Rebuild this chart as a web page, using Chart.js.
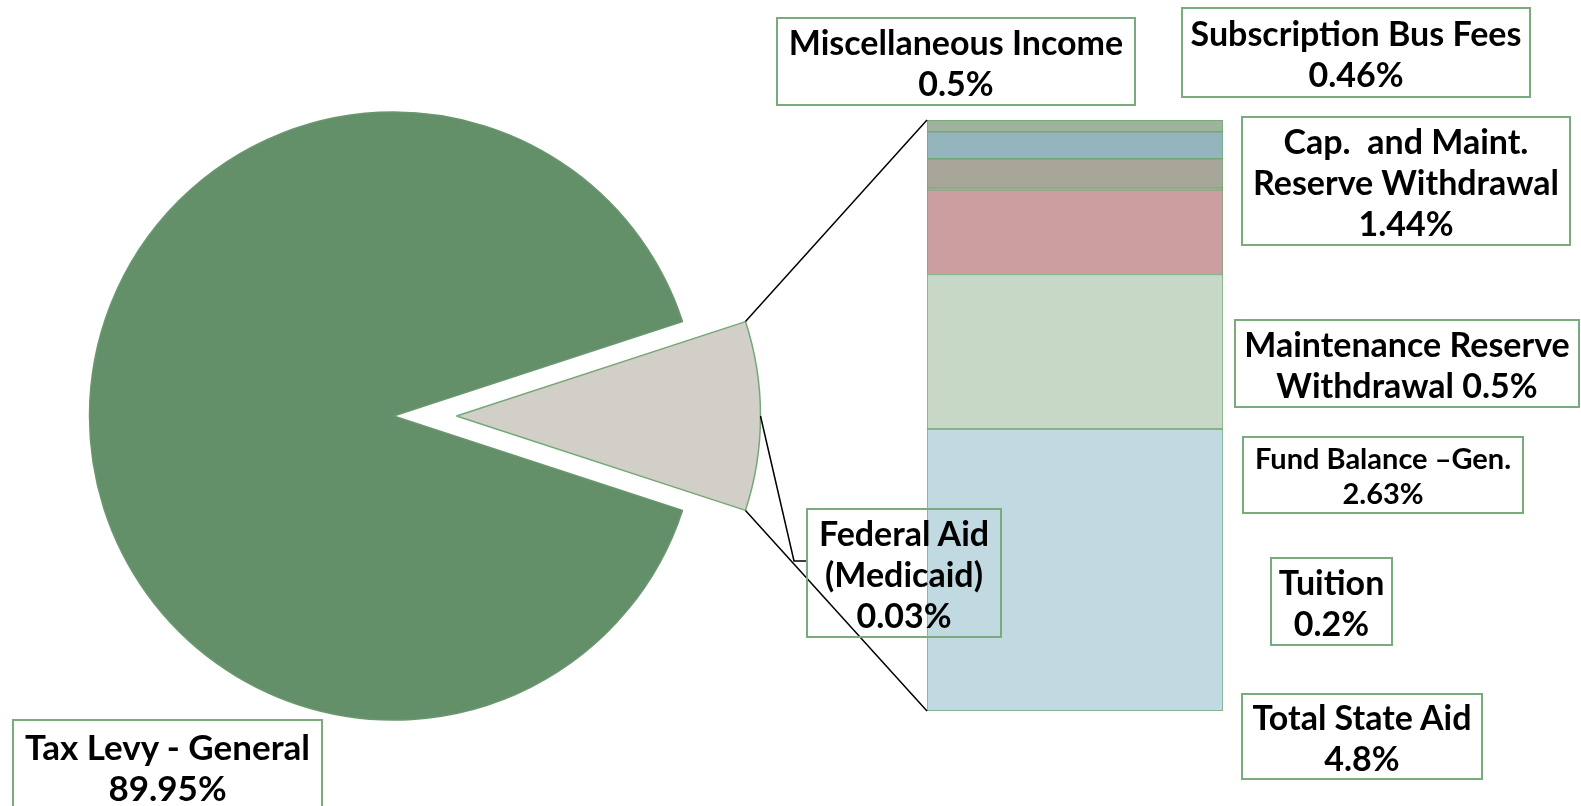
<!DOCTYPE html>
<html>
<head>
<meta charset="utf-8">
<title>Revenue Sources</title>
<script src="https://cdn.jsdelivr.net/npm/chart.js@4.4.1/dist/chart.umd.min.js"></script>
<style>
html,body{margin:0;padding:0;background:#fff;}
body{position:relative;width:1581px;height:806px;overflow:hidden;font-family:Lato,"Liberation Sans",sans-serif;}
.pieBox{position:absolute;top:0;width:787px;height:832px;}
#barBox{position:absolute;left:927px;top:120px;width:296px;height:591px;}
#lines{position:absolute;left:0;top:0;pointer-events:none;}
.lbl{position:absolute;box-sizing:border-box;border:2px solid #7aab7c;display:flex;align-items:center;justify-content:center;text-align:center;font-weight:700;color:#000;white-space:pre;}
</style>
</head>
<body>
<div class="pieBox" id="pieBoxA" style="left:0px"><canvas id="pieA"></canvas></div>
<div class="pieBox" id="pieBoxB" style="left:63px"><canvas id="pieB"></canvas></div>
<div id="barBox"><canvas id="bar"></canvas></div>
<canvas id="lines" width="1581" height="806"></canvas>
<div id="labels"></div>
<script>
// pie: tax levy vs everything else
const pieLabels = ['Tax Levy - General', 'Other Sources'];
const pieValues = [89.95, 10.05];
const pieColors = ['#638f69', '#d1cfc7'];

// stacked bar of the "other" slice, bottom to top
const barNames = ['Total State Aid', 'Fund Balance -Gen.', 'Cap. and Maint. Reserve Withdrawal', 'Federal Aid (Medicaid)', 'Maintenance Reserve Withdrawal', 'Subscription Bus Fees', 'Tuition'];
const barValues = [4.8, 2.63, 1.44, 0.03, 0.5, 0.46, 0.2];
const barColors = ['#c1dae1', '#c7d9c6', '#cb9fa0', '#93b593', '#a8a698', '#94b4be', '#9db39b'];

// text boxes
const labelNames = ['Tax Levy - General', 'Total State Aid', 'Tuition', 'Fund Balance \u2013Gen.', 'Maintenance Reserve\nWithdrawal', 'Cap.  and Maint.\nReserve Withdrawal', 'Subscription Bus Fees', 'Miscellaneous Income', 'Federal Aid\n(Medicaid)'];
const labelShares = [89.95, 4.8, 0.2, 2.63, 0.5, 1.44, 0.46, 0.5, 0.03];

const boxLayout = [
    {x: 12, y: 719, w: 311, h: 96, size: 35, lh: 41},
    {x: 1241, y: 693, w: 242, h: 87, size: 34, lh: 41},
    {x: 1270, y: 557, w: 123, h: 89, size: 34, lh: 41},
    {x: 1242, y: 436, w: 282, h: 78, size: 29, lh: 35},
    {x: 1234, y: 319, w: 346, h: 89, size: 34, lh: 41, sep: ' '},
    {x: 1241, y: 116, w: 330, h: 130, size: 34, lh: 41},
    {x: 1181, y: 7, w: 350, h: 91, size: 34, lh: 41},
    {x: 776, y: 17, w: 360, h: 89, size: 34, lh: 41},
    {x: 806, y: 508, w: 196, h: 130, size: 34, lh: 41}
];

const labelsDiv = document.getElementById('labels');
const boxEls = labelNames.map((name, i) => {
    const b = boxLayout[i];
    const d = document.createElement('div');
    d.className = 'lbl';
    d.style.left = b.x + 'px';
    d.style.top = b.y + 'px';
    d.style.width = b.w + 'px';
    d.style.height = b.h + 'px';
    d.style.fontSize = b.size + 'px';
    d.style.lineHeight = b.lh + 'px';
    d.textContent = name + (b.sep || '\n') + labelShares[i] + '%';
    labelsDiv.appendChild(d);
    return d;
});

const pieRotation = 90 + 180 * pieValues[1] / (pieValues[0] + pieValues[1]);

function makePie(id, colors, borders) {
    return new Chart(document.getElementById(id), {
        type: 'pie',
        data: {
            labels: pieLabels,
            datasets: [{
                data: pieValues,
                backgroundColor: colors,
                borderColor: borders,
                borderWidth: 1.5
            }]
        },
        options: {
            responsive: true,
            maintainAspectRatio: false,
            animation: false,
            events: [],
            radius: 304,
            rotation: pieRotation,
            plugins: {legend: {display: false}, tooltip: {enabled: false}}
        }
    });
}

// main slice stays put, the small slice is drawn on a second canvas pulled out to the right
const pieA = makePie('pieA', [pieColors[0], 'rgba(0,0,0,0)'], ['#6a976f', 'rgba(0,0,0,0)']);
const pieB = makePie('pieB', ['rgba(0,0,0,0)', pieColors[1]], ['rgba(0,0,0,0)', '#75a878']);

const barChart = new Chart(document.getElementById('bar'), {
    type: 'bar',
    data: {
        labels: ['Other Sources'],
        datasets: barNames.map((n, i) => ({
            label: n,
            data: [barValues[i]],
            backgroundColor: barColors[i],
            borderColor: '#72a676',
            borderWidth: 1,
            borderSkipped: false,
            barPercentage: 1,
            categoryPercentage: 1
        }))
    },
    options: {
        responsive: true,
        maintainAspectRatio: false,
        animation: false,
        events: [],
        layout: {padding: 0},
        scales: {
            x: {stacked: true, display: false},
            y: {stacked: true, display: false, min: 0, max: barValues.reduce((a, b) => a + b, 0)}
        },
        plugins: {legend: {display: false}, tooltip: {enabled: false}}
    }
});

// connector lines
const ctx = document.getElementById('lines').getContext('2d');
const pr = pieB.canvas.getBoundingClientRect();
const br = barChart.canvas.getBoundingClientRect();
const arc = pieB.getDatasetMeta(0).data[1];
const cx = pr.left + arc.x, cy = pr.top + arc.y, r = arc.outerRadius;
const onArc = a => [cx + Math.cos(a) * r, cy + Math.sin(a) * r];
const topBar = barChart.getDatasetMeta(barValues.length - 1).data[0];
const botBar = barChart.getDatasetMeta(0).data[0];
const barLeft = br.left + topBar.x - topBar.width / 2;
const barTop = br.top + topBar.y;
const barBottom = br.top + botBar.base;

ctx.strokeStyle = '#000';
ctx.lineWidth = 1.5;
ctx.beginPath();
let p = onArc(arc.startAngle);
ctx.moveTo(p[0], p[1]);
ctx.lineTo(barLeft, barTop);
p = onArc(arc.endAngle);
ctx.moveTo(p[0], p[1]);
ctx.lineTo(barLeft, barBottom);

// leader to the Federal Aid box
const fed = boxEls[8].getBoundingClientRect();
p = onArc(arc.startAngle + 0.5 * (arc.endAngle - arc.startAngle));
ctx.moveTo(p[0], p[1]);
ctx.lineTo(fed.left - 12, fed.top + 53);
ctx.lineTo(fed.left, fed.top + 53);
ctx.stroke();
</script>
</body>
</html>
